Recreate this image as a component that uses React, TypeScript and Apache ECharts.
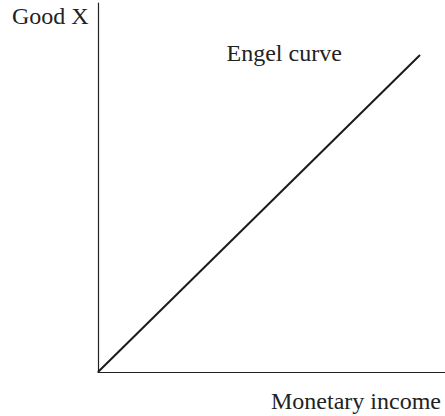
import React, { useEffect, useRef } from "react";
import * as echarts from "echarts";

const incomeValues = [0, 92.8];
const goodXValues = [0, 85.9];
const axisNames = { x: "Monetary income", y: "Good X" };
const curveName = "Engel curve";

export default function App() {
  const ref = useRef<HTMLDivElement>(null);
  useEffect(() => {
    if (!ref.current) return;
    const chart = echarts.init(ref.current, null, { renderer: "svg" });
    const textStyle = {
      fontFamily: "Liberation Serif",
      fontSize: 24,
      fill: "#222",
    };
    chart.setOption({
      animation: false,
      backgroundColor: "#ffffff",
      textStyle: { fontFamily: "Liberation Serif" },
      grid: { left: 98, right: 0, top: 3, bottom: 44 },
      xAxis: {
        type: "value",
        min: 0,
        max: 100,
        axisLine: { show: true, lineStyle: { color: "#222", width: 1.2 } },
        axisTick: { show: false },
        axisLabel: { show: false },
        splitLine: { show: false },
      },
      yAxis: {
        type: "value",
        min: 0,
        max: 100,
        axisLine: { show: true, lineStyle: { color: "#222", width: 1.2 } },
        axisTick: { show: false },
        axisLabel: { show: false },
        splitLine: { show: false },
      },
      series: [
        {
          type: "line",
          name: curveName,
          data: incomeValues.map((x, i) => [x, goodXValues[i]]),
          showSymbol: false,
          lineStyle: { color: "#1a1a1a", width: 2 },
        },
      ],
      graphic: [
        {
          type: "text",
          left: 12,
          top: 4,
          style: { text: axisNames.y, ...textStyle },
        },
        {
          type: "text",
          left: 226.5,
          top: 40.6,
          style: { text: curveName, ...textStyle },
        },
        {
          type: "text",
          left: 271,
          top: 388.5,
          style: { text: axisNames.x, ...textStyle },
        },
      ],
    });
    return () => chart.dispose();
  }, []);
  return (
    <div
      ref={ref}
      style={{ position: "fixed", left: 0, top: 0, width: 445, height: 416 }}
    />
  );
}
